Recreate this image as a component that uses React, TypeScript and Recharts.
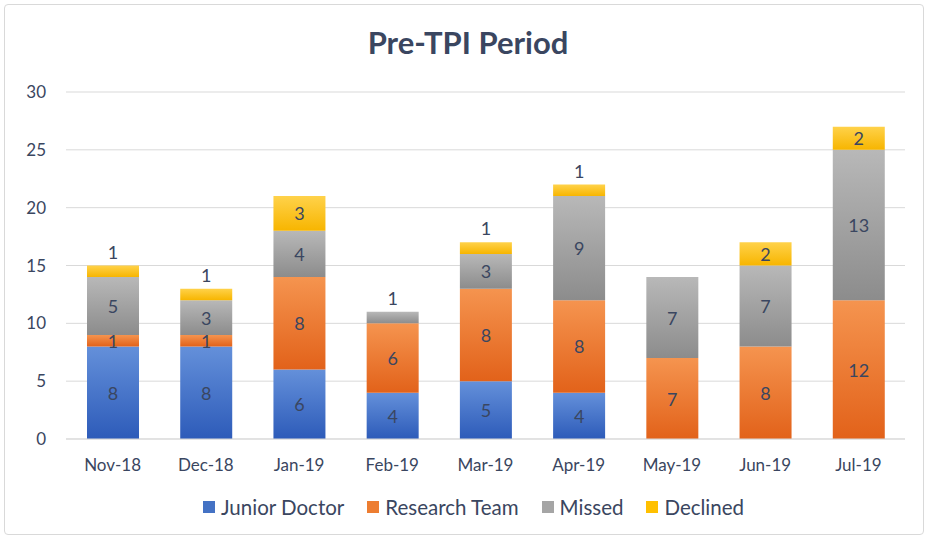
import { BarChart, Bar, XAxis, YAxis, CartesianGrid, Legend, LabelList } from 'recharts';

const months = ['Nov-18', 'Dec-18', 'Jan-19', 'Feb-19', 'Mar-19', 'Apr-19', 'May-19', 'Jun-19', 'Jul-19'];
const juniorDoctor = [8, 8, 6, 4, 5, 4, 0, 0, 0];
const researchTeam = [1, 1, 8, 6, 8, 8, 7, 8, 12];
const missed = [5, 3, 4, 1, 3, 9, 7, 7, 13];
const declined = [1, 1, 3, 0, 1, 1, 0, 2, 2];
const yTicks = [0, 5, 10, 15, 20, 25, 30];

const series = [
  { key: 'Junior Doctor', values: juniorDoctor, top: '#6490da', bottom: '#2d5bb9', swatch: '#4472c4' },
  { key: 'Research Team', values: researchTeam, top: '#f5944f', bottom: '#e2621a', swatch: '#ed7d31' },
  { key: 'Missed', values: missed, top: '#b8b8b8', bottom: '#8c8c8c', swatch: '#a5a5a5' },
  { key: 'Declined', values: declined, top: '#ffd24a', bottom: '#f7b500', swatch: '#ffc000' },
];

const chartData = months.map((m, i) => {
  const row: Record<string, string | number> = { month: m };
  series.forEach((s) => {
    row[s.key] = s.values[i];
  });
  return row;
});

const textColor = '#3a4660';
const font = 'Lato, "Open Sans", sans-serif';

// top segment of a stack: nothing stacked above it
const isTopSegment = (seriesIdx: number, i: number) =>
  series.slice(seriesIdx + 1).every((s) => s.values[i] === 0);

function makeLabel(seriesIdx: number) {
  return (props: any) => {
    const { x, y, width, height, value, index } = props;
    if (!value) return null;
    const cx = Number(x) + Number(width) / 2;
    const above = value === 1 && isTopSegment(seriesIdx, index);
    const cy = above ? Number(y) - 14 : Number(y) + Number(height) / 2;
    return (
      <text
        x={cx}
        y={cy}
        textAnchor="middle"
        dominantBaseline="central"
        fill={textColor}
        style={{ fontSize: 18, fontFamily: font }}
      >
        {value}
      </text>
    );
  };
}

function LegendContent() {
  return (
    <div
      style={{
        display: 'flex',
        justifyContent: 'center',
        gap: 23,
        paddingLeft: 36,
        fontFamily: font,
        fontSize: 20.5,
        color: textColor,
      }}
    >
      {series.map((s) => (
        <div key={s.key} style={{ display: 'flex', alignItems: 'center' }}>
          <span style={{ display: 'inline-block', width: 12, height: 12, background: s.swatch, marginRight: 6 }} />
          {s.key}
        </div>
      ))}
    </div>
  );
}

export default function App() {
  return (
    <div style={{ position: 'absolute', left: 0, top: 0, width: 928, height: 539, background: '#fff' }}>
      <div
        style={{
          position: 'absolute',
          left: 4,
          top: 4,
          width: 918,
          height: 529,
          border: '1px solid #d9d9d9',
          borderRadius: 4,
        }}
      />
      <div
        style={{
          position: 'absolute',
          top: 23,
          left: 4,
          width: 928,
          textAlign: 'center',
          fontFamily: font,
          fontWeight: 700,
          fontSize: 31,
          color: textColor,
        }}
      >
        Pre-TPI Period
      </div>
      <BarChart
        width={928}
        height={539}
        data={chartData}
        margin={{ top: 92, right: 23, left: 6, bottom: 30 }}
        barSize={52}
      >
        <defs>
          {series.map((s, i) => (
            <linearGradient key={s.key} id={`grad${i}`} x1="0" y1="0" x2="0" y2="1">
              <stop offset="0%" stopColor={s.top} />
              <stop offset="100%" stopColor={s.bottom} />
            </linearGradient>
          ))}
        </defs>
        <CartesianGrid vertical={false} stroke="#d9d9d9" />
        <XAxis
          dataKey="month"
          height={30}
          tickLine={false}
          axisLine={{ stroke: '#d9d9d9' }}
          tick={{ fill: textColor, fontSize: 17, fontFamily: font }}
          tickMargin={14}
        />
        <YAxis
          width={60}
          domain={[0, 30]}
          ticks={yTicks}
          tickLine={false}
          axisLine={false}
          tick={{ fill: textColor, fontSize: 17, fontFamily: font }}
          tickMargin={14}
        />
        <Legend
          verticalAlign="bottom"
          height={40}
          content={<LegendContent />}
          wrapperStyle={{ bottom: 'auto', top: 495 }}
        />
        {series.map((s, i) => (
          <Bar key={s.key} dataKey={s.key} stackId="a" fill={`url(#grad${i})`} isAnimationActive={false}>
            <LabelList dataKey={s.key} content={makeLabel(i)} />
          </Bar>
        ))}
      </BarChart>
    </div>
  );
}
